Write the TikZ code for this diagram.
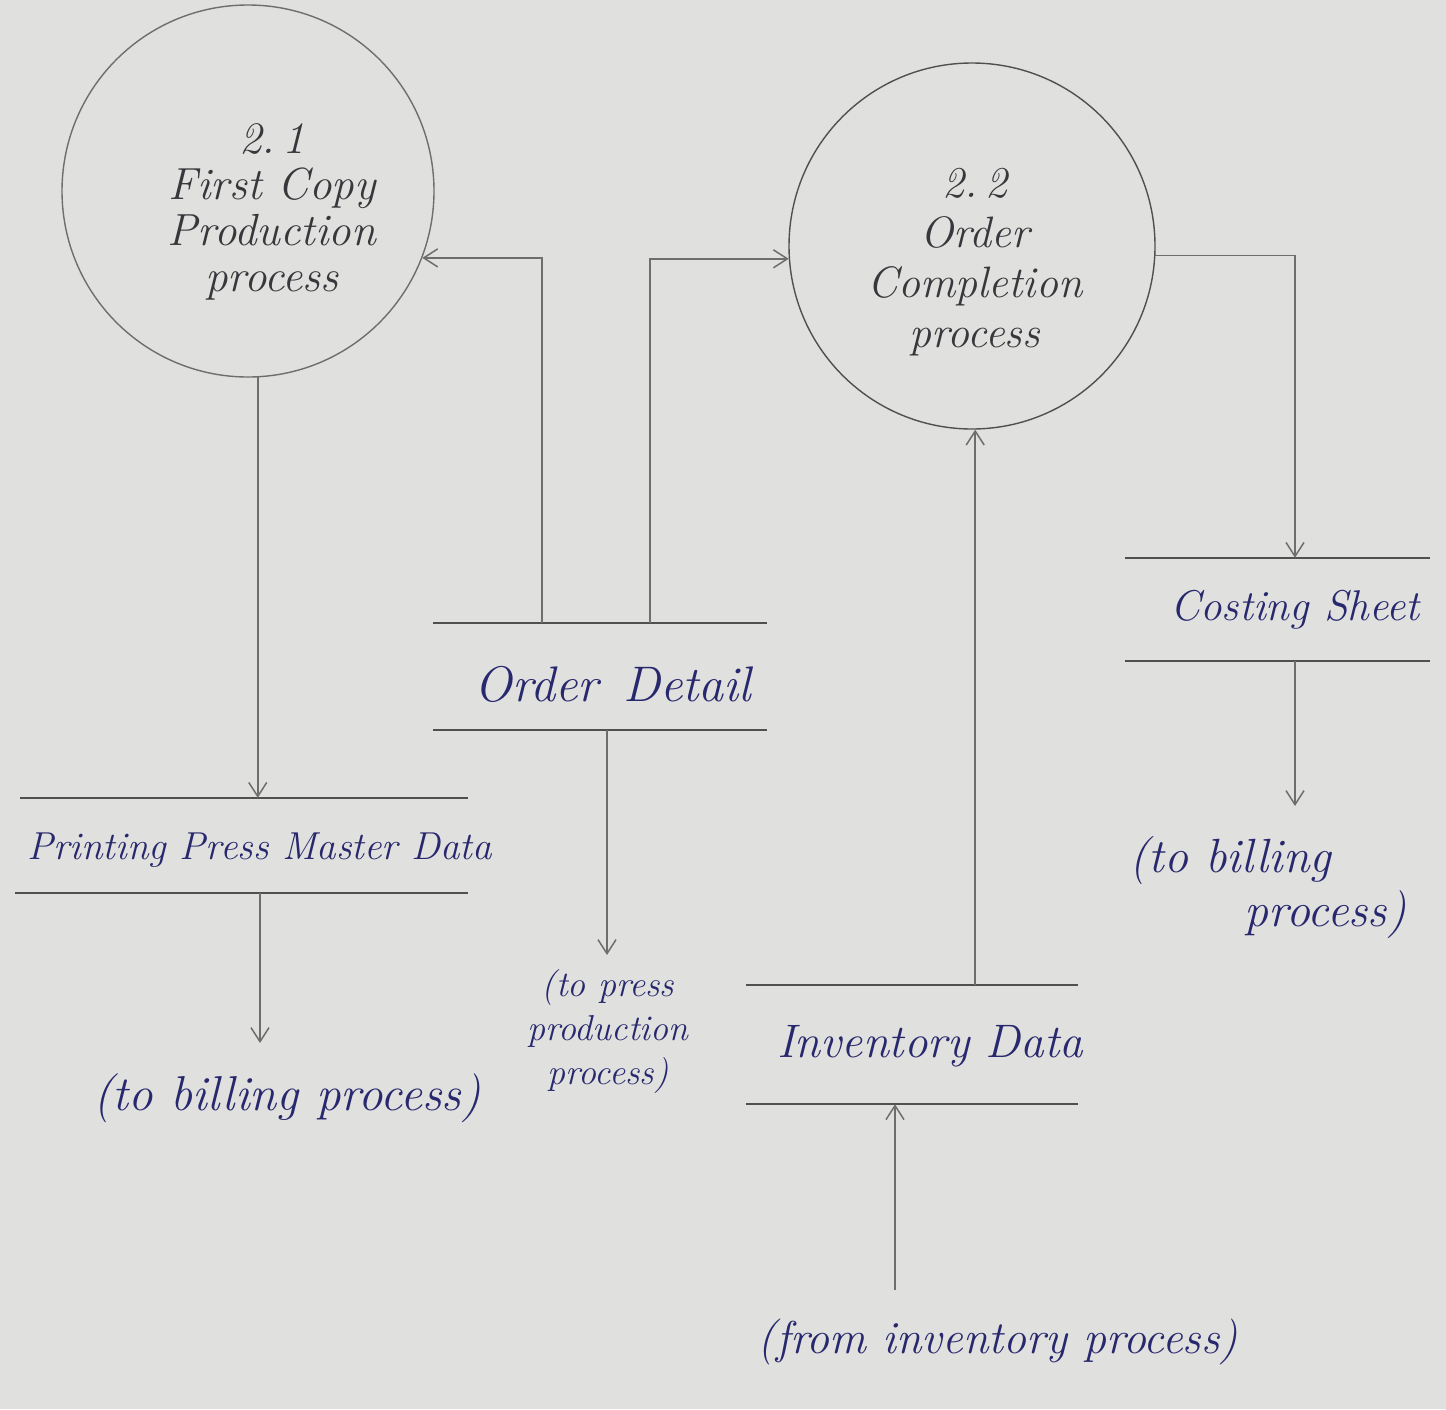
\documentclass[tikz,border=0pt]{standalone}
\usetikzlibrary{arrows.meta,calc}
\definecolor{paper}{RGB}{224,224,222}
\definecolor{pencil}{RGB}{110,110,110}
\definecolor{pencildark}{RGB}{80,80,80}
\definecolor{ink}{RGB}{40,40,110}
\definecolor{graphite}{RGB}{55,55,60}
\tikzset{
  proc/.style={circle, draw=pencil, line width=1.4pt, minimum size=#1, inner sep=0pt},
  proctext/.style={text=graphite, align=center, font=\fontsize{45}{46}\selectfont\itshape},
  store/.style={minimum width=#1, inner sep=0pt},
  storeline/.style={draw=pencildark, line width=1.6pt},
  flow/.style={draw=pencil, line width=1.5pt, -{Straight Barb[length=14pt,width=18pt,line width=1.5pt]}},
  storetext/.style={text=ink, font=\fontsize{48}{50}\selectfont\itshape},
  ext/.style={text=ink, align=center, font=\fontsize{46}{52}\selectfont\itshape},
}
\begin{document}
\begin{tikzpicture}[x=1pt,y=-1pt]
  % paper
  \fill[paper] (0,0) rectangle (1446,1409);
  \useasboundingbox (0,0) rectangle (1446,1409);

  % processes
  \node[proc=372pt] (p1) at (248,191) {};
  \node[proctext] (p1t) at (272,212) {2.\,1\\First Copy\\Production\\process};
  \node[proc=366pt, draw=pencildark] (p2) at (972,246) {};
  \node[proctext, font=\fontsize{44}{50}\selectfont\itshape] (p2t) at (975,262) {2.\,2\\Order\\Completion\\process};

  % data stores
  \node[store=453pt, minimum height=95pt] (pp) at (241.5,845.5) {};
  \node[storetext, font=\fontsize{39}{42}\selectfont\itshape] (ppt) at (260,850) {Printing Press Master Data};
  \draw[storeline] ($(pp.north west)+(5,0)$) -- (pp.north east);
  \draw[storeline] (pp.south west) -- (pp.south east);

  \node[store=334pt, minimum height=107pt] (od) at (600,676.5) {};
  \node[storetext, font=\fontsize{50}{52}\selectfont\itshape] (odt) at (613,684) {Order\enspace Detail};
  \draw[storeline] (od.north west) -- (od.north east);
  \draw[storeline] (od.south west) -- (od.south east);

  \node[store=305pt, minimum height=103pt] (cs) at (1277.5,609.5) {};
  \node[storetext, font=\fontsize{43}{46}\selectfont\itshape] (cst) at (1295,610) {Costing Sheet};
  \draw[storeline] (cs.north west) -- (cs.north east);
  \draw[storeline] (cs.south west) -- (cs.south east);

  \node[store=332pt, minimum height=119pt] (inv) at (912,1044.5) {};
  \node[storetext, font=\fontsize{47}{50}\selectfont\itshape] (invt) at (930,1046) {Inventory Data};
  \draw[storeline] (inv.north west) -- (inv.north east);
  \draw[storeline] (inv.south west) -- (inv.south east);

  % free ends of external flows
  \coordinate (toBillA) at (260,1043);
  \coordinate (toPress) at (607,955);
  \coordinate (toBillB) at (1295,806);
  \coordinate (fromInv) at (895,1290);

  % flows
  \draw[flow] (p1.-87) -- (p1.-87 |- pp.north);
  \draw[flow] (pp.south -| toBillA) -- (toBillA);
  \draw[flow] ($(od.north)+(-58,0)$) |- (p1.-21);
  \draw[flow] ($(od.north)+(50,0)$) |- (p2.184);
  \draw[flow] (od.south -| toPress) -- (toPress);
  \draw[flow] (inv.north -| p2.-89) -- (p2.-89);
  \draw[flow] (fromInv) -- (fromInv |- inv.south);
  \draw[flow] (p2.-3) -| (cs.north -| toBillB);
  \draw[flow] (cs.south -| toBillB) -- (toBillB);

  % external labels
  \node[ext, font=\fontsize{49}{52}\selectfont\itshape] (billA) at (287,1098) {(to billing process)};
  \node[ext, font=\fontsize{36}{44}\selectfont\itshape] (press) at (608,1032) {(to press\\production\\process)};
  \node[ext, align=left, font=\fontsize{48}{54}\selectfont\itshape] (billB) at (1268,888) {(to billing\\\hspace*{2.4em}process)};
  \node[ext, font=\fontsize{46}{52}\selectfont\itshape] (inv src) at (998,1342) {(from inventory process)};
\end{tikzpicture}
\end{document}
